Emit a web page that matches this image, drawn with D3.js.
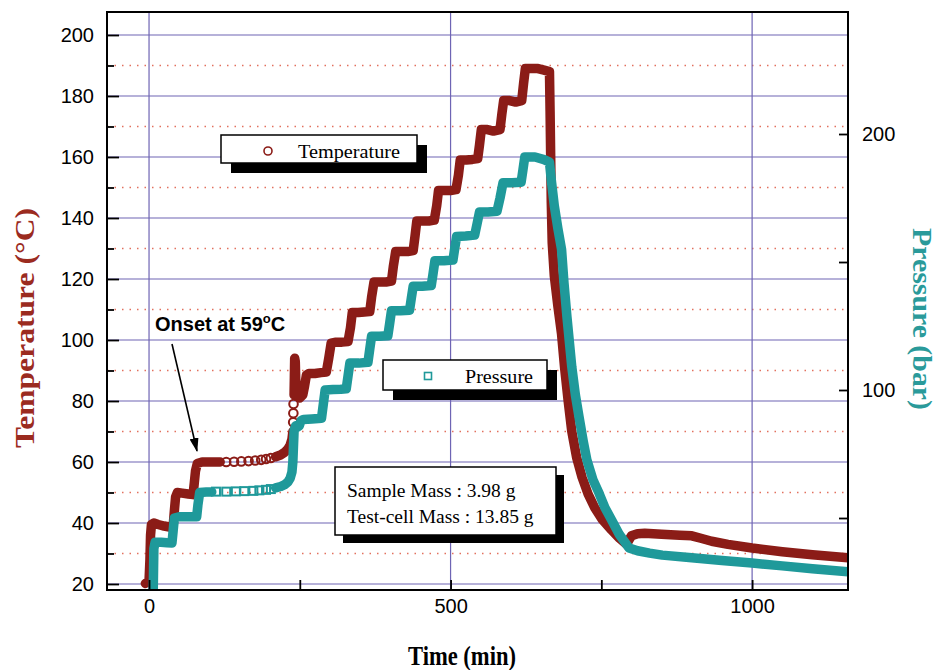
<!DOCTYPE html>
<html><head><meta charset="utf-8">
<script src="https://cdn.jsdelivr.net/npm/d3@7"></script>
<style>body{margin:0;background:#fff}</style>
</head><body>
<svg id="c" width="938" height="670"></svg>
<script>
// ---------------- data ----------------
const tempTime = [-6,-3,0,1.5,2.5,4,8,15,25,36,40,42,44,47,55,65,73,75,77,80,88,98,108,118,
  128,141,153,165,176,186,194,202,
  210,218,225,230,234,237,238.5,239,239.3,239.6,240.5,241,241.5,242.5,243.5,246,250,255,258,261,
  265,275,285,294,298,302,310,320,330,334,337,347,357,366,369,373,383,393,402,405,409,419,429,438,
  441,444,454,464,473,477,480,490,500,509,513,516,526,536,545,548,551,561,571,582,585,588,598,608,618,
  621,624,635,645,655,664,665,666,667,668.5,672,678,684,689,695,701,709,718,728,739,752,767,780,792,
  796,800,810,822,850,880,900,915,933,960,1000,1050,1100,1159];
const tempC = [20.2,20.5,21,28,36,39.5,40,39.5,39,38.6,39,44,48.5,50,49.8,49.5,49.3,53,57,59.5,60,60,60,60,
  60,60.1,60.2,60.3,60.5,60.7,61,61.3,
  61.7,62.3,63.2,64.2,65.5,67.5,70,73,76,79,82,88,94,93,85,81.5,81,82,85,88.5,
  89,89,89.3,89.5,94,99,99.3,99.3,99.5,104,109,109,109.2,109.3,114,119,119,119,119.3,124,129,129,129,129.3,
  134,139,139,139,139.3,144,149,149,149,149.3,154,159,159,159.2,159.5,164,169,169,168.5,169,174,178.5,178.5,178,178.5,
  184,189,189,189,188.5,188,175,160,145,132,121,111,102,91,80,70,61.5,55,49.5,45,41,37.7,35,33,
  34.5,35.8,36.5,36.6,36.3,36,35.8,35,34,33,31.8,30.6,29.6,28.6];
const presTime = [7,7.5,8,10,20,30,38,40,42,50,65,79,81,84,95,104,
  111,128,144,158,173,183,194,202,
  210,218,225,230,234,237,238.5,239.5,240.5,243,246,249,252,256,270,286,289,292,305,318,327,330,333,
  348,363,366,369,382,396,399,402,417,432,435,438,453,468,471,474,489,504,507,510,525,540,544,548,
  562,577,582,587,602,617,620,623,640,655,664,667,672,678,684,688,693,701,707,713,720,726,736,746,
  756,767,780,796,810,830,851,900,950,1000,1050,1100,1159];
const presBar = [22,30,38,40.5,40.5,40.3,40.2,45,50,50.5,50.5,50.5,55,60,60.2,60.2,
  60.3,60.3,60.4,60.5,60.6,60.8,61,61.3,
  61.8,62.3,63,64,65.5,68,72,78,84,86,85.5,86,88,88.5,88.7,89,94.5,100,100.2,100.3,100.5,105.5,110.5,
  110.5,110.8,116,121,121,121.2,126,131,131,131.2,136,140.5,140.5,140.8,145.5,150.5,150.5,150.8,155.5,160,160.2,160.5,165,169.5,
  169.5,169.8,175,181,181,181.2,186,191,191,190,189,182,172,163,155,142,128.5,109,98,89.5,80,72.7,65,59.8,
  54,49.2,43.5,38.3,37.2,36.3,35.5,34.5,33.4,32.4,31.3,30.2,29];

const tempTicks = [20,40,60,80,100,120,140,160,180,200];
const tempMinorTicks = [30,50,70,90,110,130,150,170,190];
const timeTicks = [0,500,1000];
const timeMinorTicks = [250,750];
const presTicks = [100,200];
const presMinorTicks = [50,150];
const seriesNames = ["Temperature","Pressure"];
const infoLines = ["Sample Mass : 3.98 g","Test-cell Mass : 13.85 g"];
const axisTitles = {x:"Time (min)", yL:"Temperature (\u00B0C)", yR:"Pressure (bar)"};

// ---------------- layout / style ----------------
const L=107, R=848, T=12, B=590;
const RED="#8b1c17", TEAL="#1f999a", GRID="#6e64b4", DOT="#e2705e";
const tempSparse=[[122,208],[238.7,240]];
const presSparse=[[108,208]];

const svg=d3.select("#c");
svg.append("rect").attr("width",938).attr("height",670).attr("fill","#fff");

const x=d3.scaleLinear().domain([-69.7,1159]).range([L,R]);
const yT=d3.scaleLinear().domain([18.03,207.54]).range([B,T]);
const yP=d3.scaleLinear().domain([21.875,247.66]).range([B,T]);

const defs=svg.append("defs");
defs.append("clipPath").attr("id","clip").append("rect").attr("x",L).attr("y",T).attr("width",R-L).attr("height",B-T);
defs.append("marker").attr("id","ah").attr("viewBox","0 0 14 9").attr("refX",13).attr("refY",4.5)
  .attr("markerWidth",14).attr("markerHeight",9).attr("markerUnits","userSpaceOnUse").attr("orient","auto")
  .append("path").attr("d","M0,0 L14,4.5 L0,9 Z").attr("fill","#000");

// grid
const grid=svg.append("g");
grid.selectAll(".gh").data(tempTicks).join("line")
  .attr("x1",L).attr("x2",R).attr("y1",d=>yT(d)).attr("y2",d=>yT(d))
  .attr("stroke",GRID).attr("stroke-width",1.2);
grid.selectAll(".gd").data(tempMinorTicks).join("line")
  .attr("x1",L).attr("x2",R).attr("y1",d=>yT(d)).attr("y2",d=>yT(d))
  .attr("stroke",DOT).attr("stroke-width",1.5).attr("stroke-dasharray","1.5 6");
grid.selectAll(".gv").data(timeTicks).join("line")
  .attr("x1",d=>x(d)).attr("x2",d=>x(d)).attr("y1",T).attr("y2",B)
  .attr("stroke",GRID).attr("stroke-width",1.2);

function inRanges(t,ranges){return ranges.some(r=>t>r[0]&&t<r[1]);}

function drawSeries(times,vals,yScale,color,ranges,shape){
  const pts=times.map((t,i)=>({t,v:vals[i]}));
  const g=svg.append("g").attr("clip-path","url(#clip)");
  const line=d3.line().defined(d=>!inRanges(d.t,ranges)).x(d=>x(d.t)).y(d=>yScale(d.v));
  g.append("path").datum(pts).attr("d",line).attr("fill","none").attr("stroke",color)
    .attr("stroke-width",9.5).attr("stroke-linejoin","round").attr("stroke-linecap","round");
  const sp=pts.filter(d=>inRanges(d.t,ranges));
  if(shape==="circle"){
    g.selectAll("circle.m").data(sp).join("circle").attr("cx",d=>x(d.t)).attr("cy",d=>yScale(d.v))
      .attr("r",4.3).attr("fill","none").attr("stroke",color).attr("stroke-width",2);
  } else {
    g.selectAll("rect.m").data(sp).join("rect").attr("x",d=>x(d.t)-4).attr("y",d=>yScale(d.v)-4)
      .attr("width",8).attr("height",8).attr("fill","none").attr("stroke",color).attr("stroke-width",2);
  }
}
drawSeries(tempTime,tempC,yT,RED,tempSparse,"circle");
drawSeries(presTime,presBar,yP,TEAL,presSparse,"square");

// boxes with shadow
function box(x0,y0,w,h,off){
  svg.append("rect").attr("x",x0+off).attr("y",y0+off).attr("width",w).attr("height",h).attr("fill","#000");
  svg.append("rect").attr("x",x0).attr("y",y0).attr("width",w).attr("height",h).attr("fill","#fff")
    .attr("stroke","#000").attr("stroke-width",1.5);
}
const serif="'Liberation Serif','Times New Roman',serif";
box(221,135,196,28,10);
svg.append("circle").attr("cx",268).attr("cy",151).attr("r",4).attr("fill","none").attr("stroke",RED).attr("stroke-width",1.6);
svg.append("text").attr("x",298).attr("y",158).attr("font-family",serif).attr("font-size",19.5)
  .attr("textLength",102).attr("lengthAdjust","spacingAndGlyphs").text(seriesNames[0]);
box(383,360,164,30,10);
svg.append("rect").attr("x",424.5).attr("y",372.5).attr("width",7).attr("height",7).attr("fill","none").attr("stroke",TEAL).attr("stroke-width",1.6);
svg.append("text").attr("x",465).attr("y",383).attr("font-family",serif).attr("font-size",19.5)
  .attr("textLength",68).attr("lengthAdjust","spacingAndGlyphs").text(seriesNames[1]);
box(335,467,221,68,8);
svg.selectAll("text.info").data(infoLines).join("text").attr("x",347).attr("y",(d,i)=>497+i*26)
  .attr("font-family",serif).attr("font-size",19.5).text(d=>d);

// onset annotation
const ann=svg.append("text").attr("x",155).attr("y",331).attr("font-family","'Liberation Sans',Arial,sans-serif")
  .attr("font-weight","bold").attr("font-size",20);
ann.append("tspan").text("Onset at 59");
ann.append("tspan").attr("font-size",13).attr("dy",-8).text("o");
ann.append("tspan").attr("dy",8).text("C");
svg.append("line").attr("x1",172).attr("y1",344).attr("x2",197).attr("y2",451)
  .attr("stroke","#000").attr("stroke-width",1.6).attr("marker-end","url(#ah)");

// axes
const sans="'Liberation Sans',Arial,sans-serif";
function styleAxis(g){
  g.select(".domain").remove();
  g.selectAll("line").attr("stroke","#000").attr("stroke-width",1.8);
  g.selectAll("text").attr("font-family",sans).attr("font-size",20).attr("fill","#000");
}
const fmt=d3.format("d");
svg.append("g").attr("transform",`translate(${L},0)`)
  .call(d3.axisLeft(yT).tickValues(tempTicks).tickFormat(fmt).tickSizeInner(-12).tickSizeOuter(0).tickPadding(13)).call(styleAxis);
svg.append("g").attr("transform",`translate(${L},0)`)
  .call(d3.axisLeft(yT).tickValues(tempMinorTicks).tickFormat("").tickSizeInner(-7).tickSizeOuter(0)).call(styleAxis);
svg.append("g").attr("transform",`translate(0,${B})`)
  .call(d3.axisBottom(x).tickValues(timeTicks).tickFormat(fmt).tickSizeInner(-10).tickSizeOuter(0).tickPadding(9)).call(styleAxis);
svg.append("g").attr("transform",`translate(0,${B})`)
  .call(d3.axisBottom(x).tickValues(timeMinorTicks).tickFormat("").tickSizeInner(-10).tickSizeOuter(0)).call(styleAxis);
svg.append("g").attr("transform",`translate(${R},0)`)
  .call(d3.axisRight(yP).tickValues(presTicks).tickFormat(fmt).tickSizeInner(-9).tickSizeOuter(0).tickPadding(14)).call(styleAxis);
svg.append("g").attr("transform",`translate(${R},0)`)
  .call(d3.axisRight(yP).tickValues(presMinorTicks).tickFormat("").tickSizeInner(-9).tickSizeOuter(0)).call(styleAxis);

// frame
svg.append("rect").attr("x",L).attr("y",T).attr("width",R-L).attr("height",B-T)
  .attr("fill","none").attr("stroke","#000").attr("stroke-width",2);

// axis titles
svg.append("text").attr("transform","translate(34,328) rotate(-90)").attr("text-anchor","middle")
  .attr("font-family",serif).attr("font-weight","bold").attr("font-size",28).attr("fill","#9b2b1f")
  .attr("textLength",240).attr("lengthAdjust","spacingAndGlyphs").text(axisTitles.yL);
svg.append("text").attr("transform","translate(913,319) rotate(90)").attr("text-anchor","middle")
  .attr("font-family",serif).attr("font-weight","bold").attr("font-size",28).attr("fill","#2a9a9a")
  .attr("textLength",182).attr("lengthAdjust","spacingAndGlyphs").text(axisTitles.yR);
svg.append("text").attr("x",462).attr("y",665).attr("text-anchor","middle")
  .attr("font-family",serif).attr("font-weight","bold").attr("font-size",27)
  .attr("textLength",108).attr("lengthAdjust","spacingAndGlyphs").text(axisTitles.x);
</script>
</body></html>
